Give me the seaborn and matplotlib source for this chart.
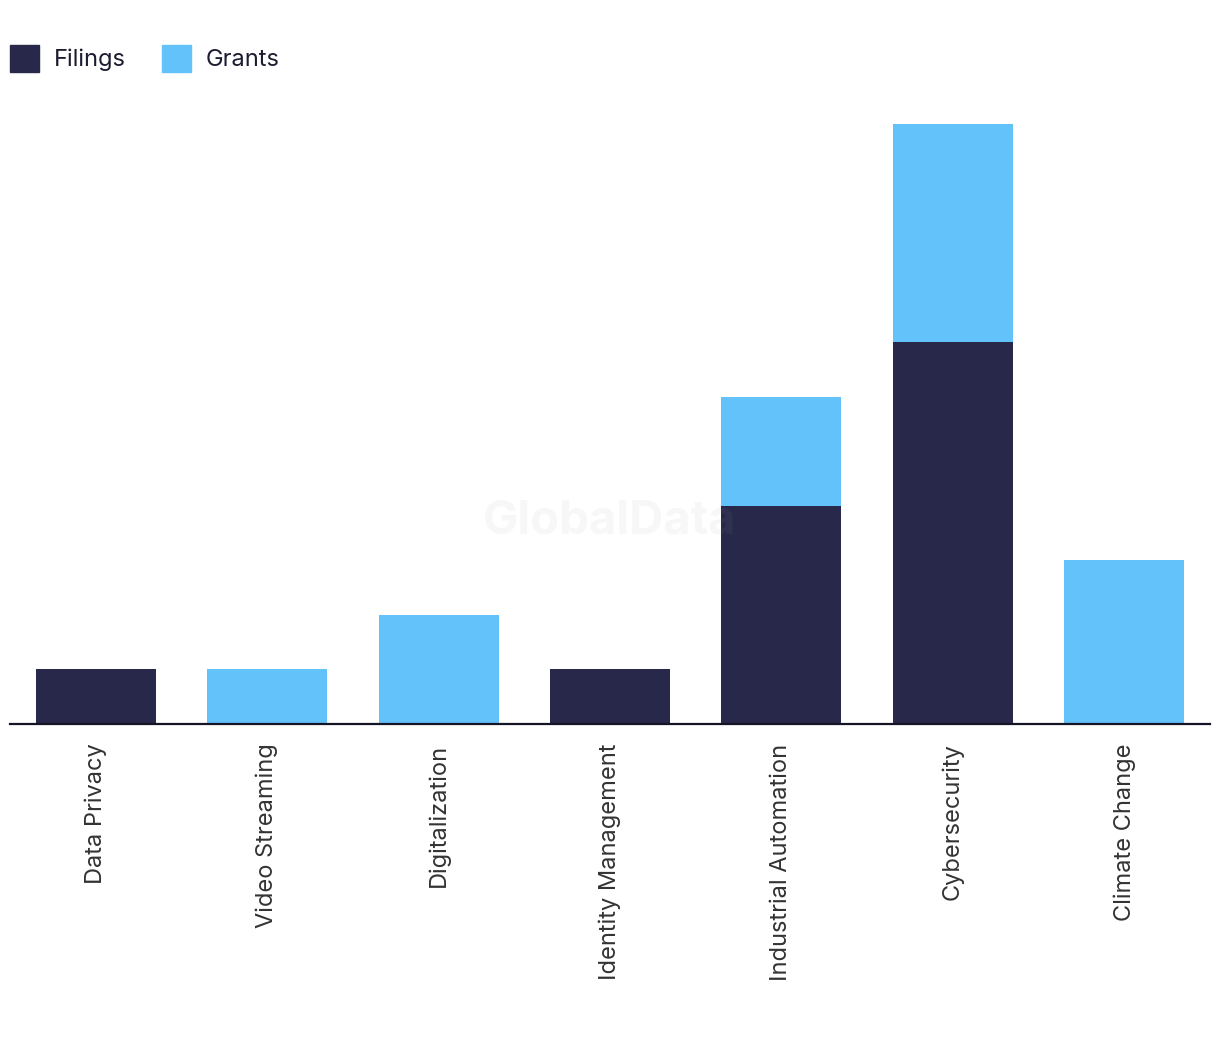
import matplotlib
matplotlib.use("Agg")
import matplotlib.pyplot as plt
from matplotlib.patches import Patch
import seaborn as sns
import pandas as pd

# data
categories = ["Data Privacy", "Video Streaming", "Digitalization", "Identity Management",
              "Industrial Automation", "Cybersecurity", "Climate Change"]
filings = [1, 0, 0, 1, 4, 7, 0]
grants = [0, 1, 2, 0, 2, 4, 3]

FILINGS_COLOR = "#28284B"
GRANTS_COLOR = "#62C2F9"

df = pd.DataFrame({"category": categories, "filings": filings, "grants": grants})
df["total"] = df["filings"] + df["grants"]

sns.set_style("white")
plt.rcParams["font.family"] = ["Inter", "DejaVu Sans"]

fig = plt.figure(figsize=(12.2, 10.42), dpi=100)
ax = fig.add_axes([10 / 1220, 318 / 1042, 1200 / 1220, 600 / 1042])

# stacked: total in grants colour, filings drawn over it
sns.barplot(data=df, x="category", y="total", color=GRANTS_COLOR, width=0.7,
            saturation=1, linewidth=0, ax=ax)
sns.barplot(data=df, x="category", y="filings", color=FILINGS_COLOR, width=0.7,
            saturation=1, linewidth=0, ax=ax)

ax.set_xlim(-0.5, len(categories) - 0.5)
ax.set_ylim(0, 11)
ax.set_xlabel("")
ax.set_ylabel("")
ax.set_yticks([])
ax.tick_params(axis="x", length=0, pad=14, labelsize=17, labelcolor="#333333")
for lbl in ax.get_xticklabels():
    lbl.set_rotation(90)
    lbl.set_va("top")
    lbl.set_ha("center")

for s in ["top", "right", "left"]:
    ax.spines[s].set_visible(False)
ax.spines["bottom"].set_color("#151525")
ax.spines["bottom"].set_linewidth(1.6)

handles = [Patch(color=FILINGS_COLOR, label="Filings"),
           Patch(color=GRANTS_COLOR, label="Grants")]
fig.legend(handles=handles, loc="upper left", bbox_to_anchor=(-0.009, 0.977), ncol=2,
           frameon=False, fontsize=17, handlelength=1.2, handleheight=1.35,
           handletextpad=0.65, columnspacing=1.55, labelcolor="#1c1c30")

# watermark
fig.text(0.5, 0.5, "GlobalData", ha="center", va="center", fontsize=34,
         fontweight="bold", color="#999999", alpha=0.08, zorder=10)

fig.savefig("out.png", dpi=100)
